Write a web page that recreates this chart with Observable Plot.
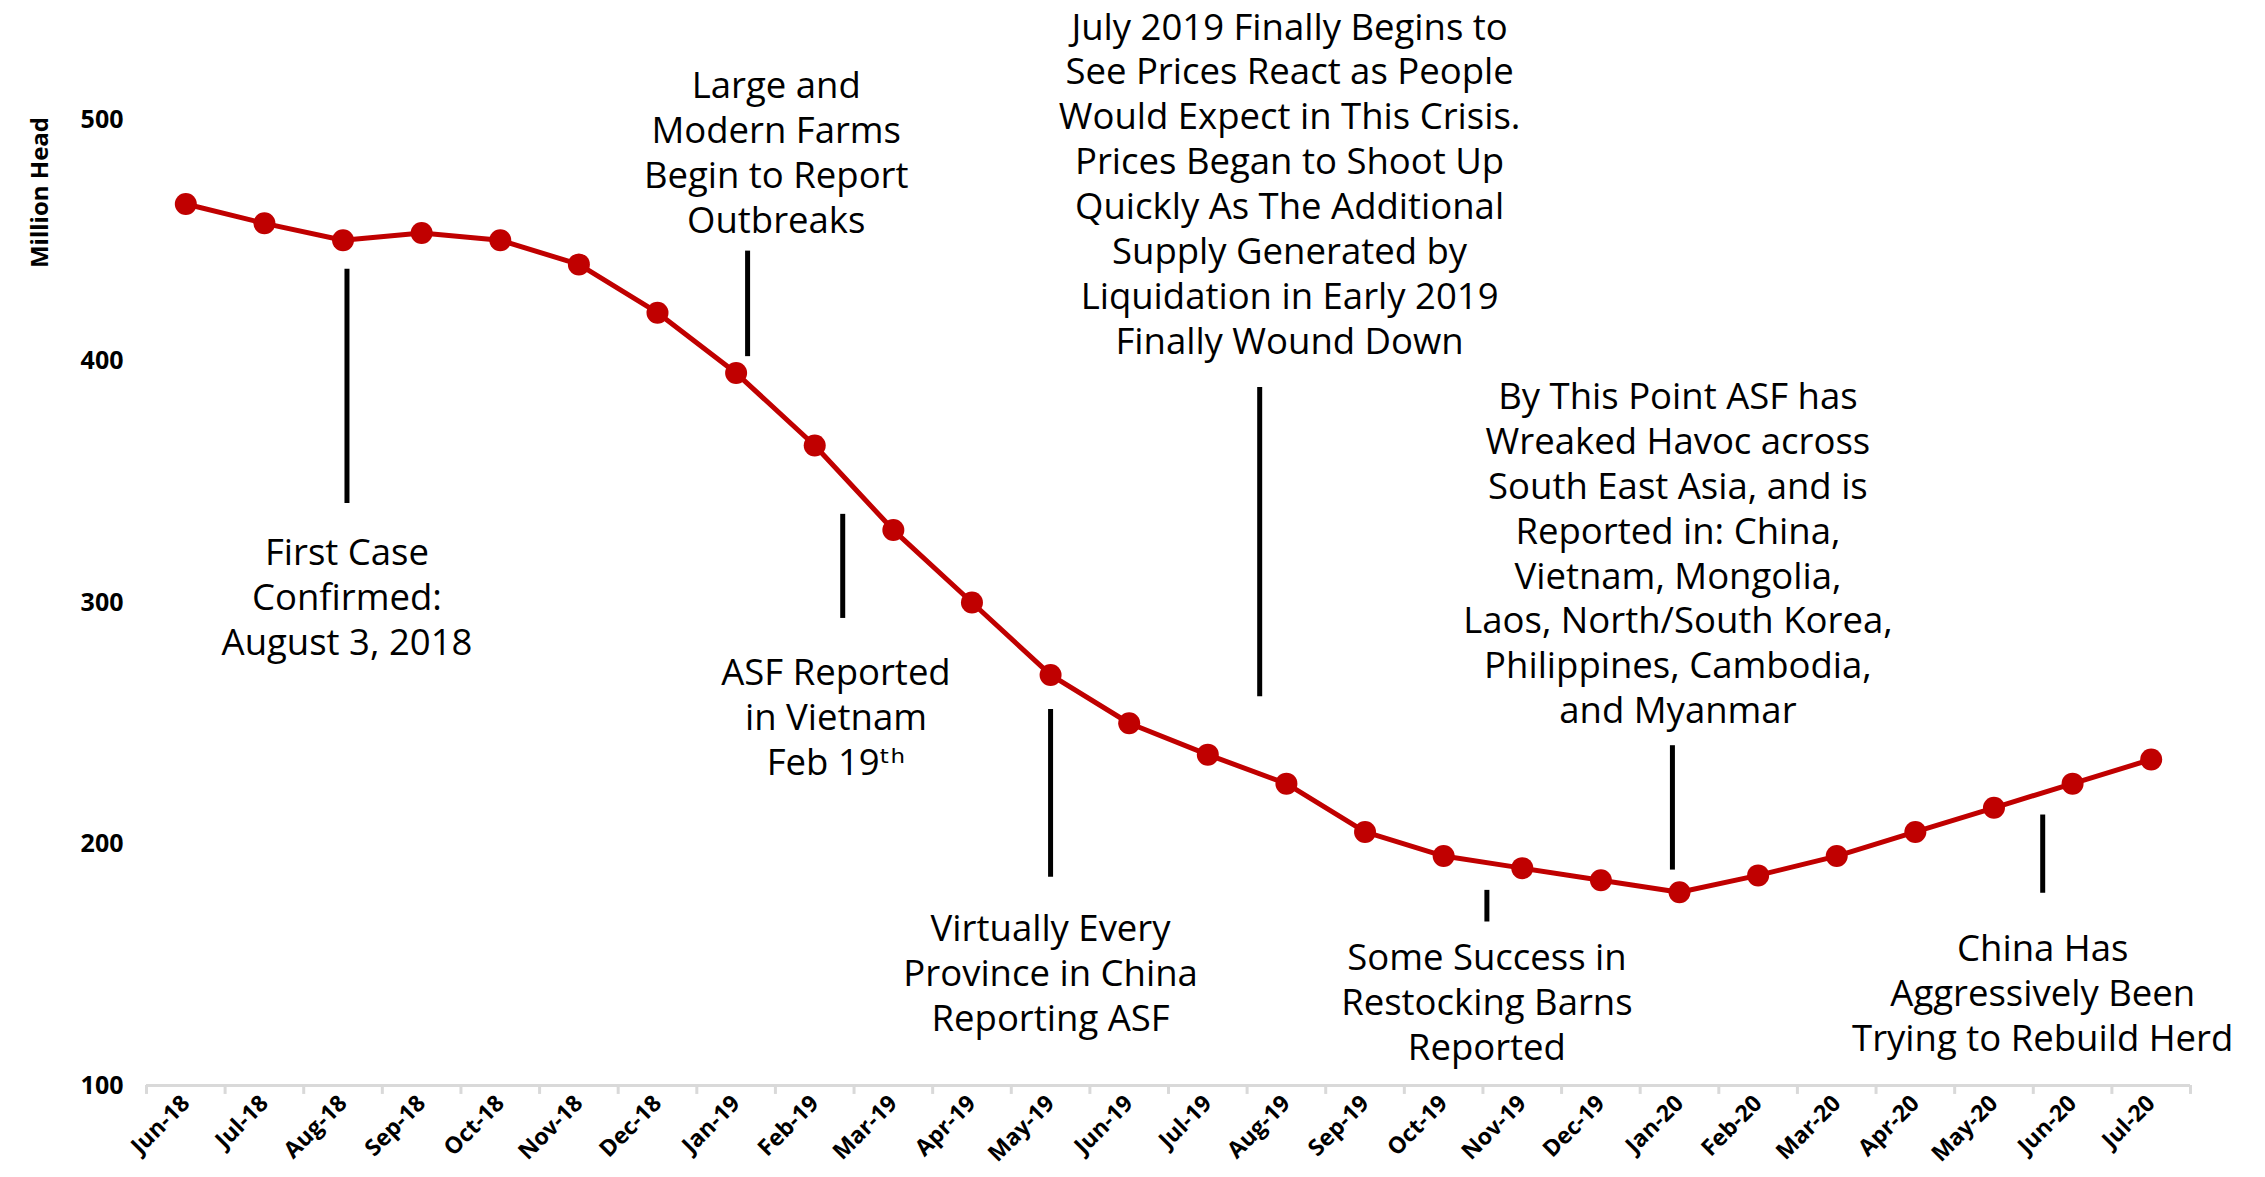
<!DOCTYPE html>
<html><head><meta charset="utf-8">
<script src="https://cdn.jsdelivr.net/npm/d3@7"></script>
<script src="https://cdn.jsdelivr.net/npm/@observablehq/plot@0.6"></script>
<style>html,body{margin:0;padding:0;background:#fff;overflow:hidden;}</style>
</head><body><div id="chart"></div>
<script>
const months = ["Jun-18","Jul-18","Aug-18","Sep-18","Oct-18","Nov-18","Dec-18",
  "Jan-19","Feb-19","Mar-19","Apr-19","May-19","Jun-19","Jul-19","Aug-19","Sep-19","Oct-19","Nov-19","Dec-19",
  "Jan-20","Feb-20","Mar-20","Apr-20","May-20","Jun-20","Jul-20"];
const headcount = [465,457,450,453,450,440,420,395,365,330,300,270,250,237,225,205,195,190,185,180,187,195,205,215,225,235];
const yTicks = [100,200,300,400,500];

const noteMonths = ["Aug-18","Jan-19","Feb-19","May-19","Aug-19","Nov-19","Jan-20","Jun-20"];
const noteTexts = [
  "First Case\nConfirmed:\nAugust 3, 2018",
  "Large and\nModern Farms\nBegin to Report\nOutbreaks",
  "ASF Reported\nin Vietnam\nFeb 19ᵗʰ",
  "Virtually Every\nProvince in China\nReporting ASF",
  "July 2019 Finally Begins to\nSee Prices React as People\nWould Expect in This Crisis.\nPrices Began to Shoot Up\nQuickly As The Additional\nSupply Generated by\nLiquidation in Early 2019\nFinally Wound Down",
  "Some Success in\nRestocking Barns\nReported",
  "By This Point ASF has\nWreaked Havoc across\nSouth East Asia, and is\nReported in: China,\nVietnam, Mongolia,\nLaos, North/South Korea,\nPhilippines, Cambodia,\nand Myanmar",
  "China Has\nAggressively Been\nTrying to Rebuild Herd"
];
const noteTextValue = [303, 487, 253, 147, 474, 135, 321, 139];
const noteTextShift = [0.05, 0.51, 0.27, 0, 0.04, -0.45, -0.02, -0.38];
const noteRuleFrom = [438, 445.5, 336.5, 255.7, 389, 180.8, 240.7, 212];
const noteRuleTo = [341, 401.8, 293.4, 186.2, 261, 167.7, 189.2, 179.6];
const noteRuleShift = [0.05, 0.146, 0.356, 0, -0.34, -0.45, -0.09, -0.38];

const series = months.map((m, i) => ({i, month: m, value: headcount[i]}));
const notes = noteMonths.map((m, k) => ({
  i: months.indexOf(m), text: noteTexts[k], ty: noteTextValue[k], ts: noteTextShift[k],
  r1: noteRuleFrom[k], r2: noteRuleTo[k], rs: noteRuleShift[k]
}));
const boundaries = d3.range(months.length + 1).map(i => i - 0.5);

const FONT = "'Open Sans', 'DejaVu Sans', sans-serif";

const chart = Plot.plot({
  width: 2265, height: 1177,
  marginLeft: 146, marginRight: 75, marginTop: 119, marginBottom: 92,
  style: {fontFamily: FONT, background: "#fff", color: "#000"},
  x: {type: "linear", domain: [-0.5, months.length - 0.5], axis: null},
  y: {domain: [100, 500], axis: null},
  marks: [
    Plot.ruleY([100], {stroke: "#d9d9d9", strokeWidth: 3}),
    Plot.ruleX(boundaries, {x: d => d, y1: 100, y2: 96.3, stroke: "#d9d9d9", strokeWidth: 3}),
    Plot.axisX(d3.range(months.length), {tickFormat: i => months[i], tickRotate: -45, tickSize: 0, tickPadding: 14, fontSize: 23, fontWeight: "bold", label: null}),
    Plot.axisY(yTicks, {tickSize: 0, tickPadding: 23, fontSize: 25, fontWeight: "bold", label: null}),
    Plot.text(["Million Head"], {frameAnchor: "top-left", rotate: -90, dx: -116, dy: 73, fontSize: 24, fontWeight: "bold", textAnchor: "middle"}),
    Plot.ruleX(notes, {x: d => d.i + d.rs, y1: "r1", y2: "r2", stroke: "#000", strokeWidth: 5}),
    Plot.text(notes, {x: d => d.i + d.ts, y: "ty", text: "text", lineAnchor: "middle", textAnchor: "middle", fontSize: 36.5, lineHeight: 1.23, fill: "#000"}),
    Plot.line(series, {x: "i", y: "value", stroke: "#C00000", strokeWidth: 5}),
    Plot.dot(series, {x: "i", y: "value", r: 11, fill: "#C00000"})
  ]
});
document.getElementById("chart").append(chart);
</script>
</body></html>
